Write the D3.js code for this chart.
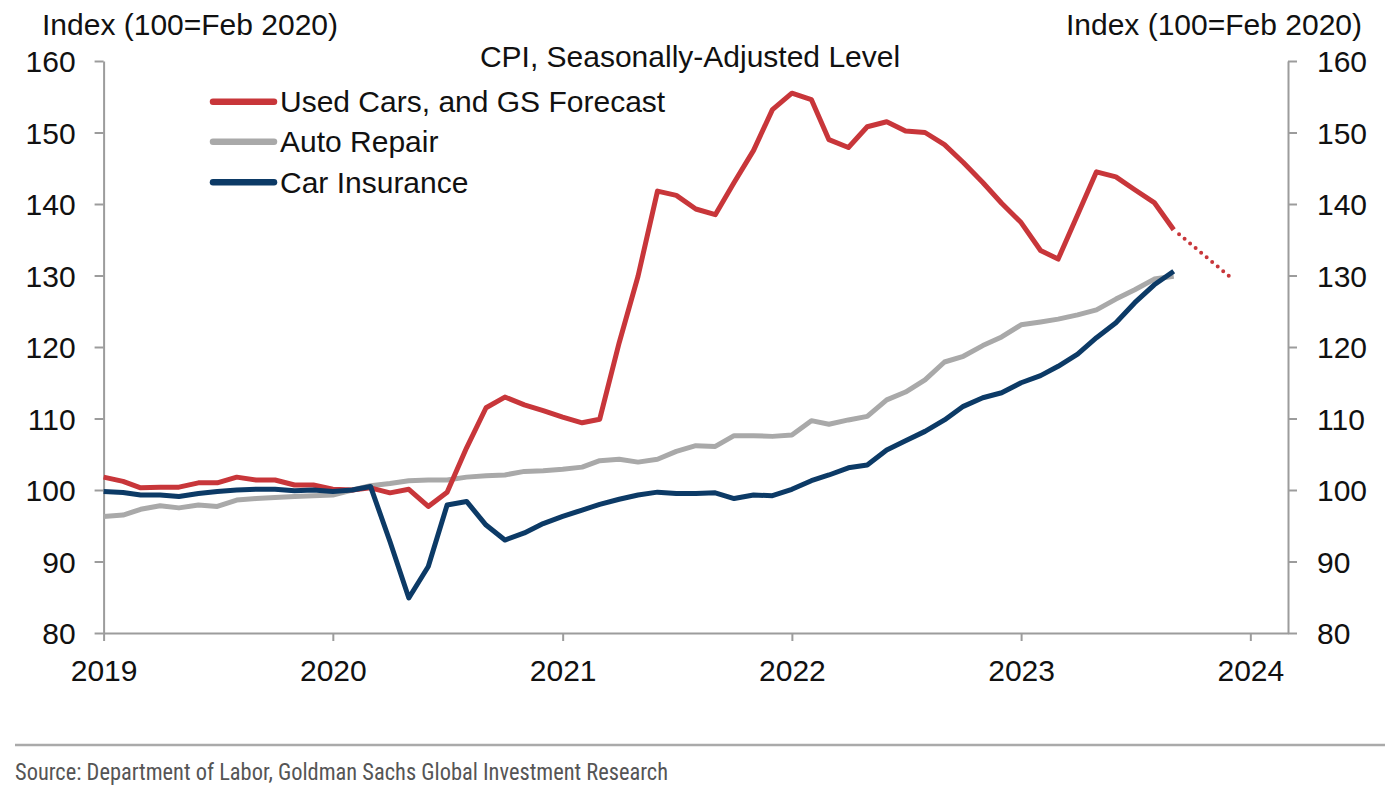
<!DOCTYPE html>
<html>
<head>
<meta charset="utf-8">
<script src="https://cdn.jsdelivr.net/npm/d3@7"></script>
<style>
  html, body { margin: 0; padding: 0; background: #fff; }
  svg { display: block; font-family: "Liberation Sans", Arial, sans-serif; }
</style>
</head>
<body>
<svg id="chart" width="1400" height="796"></svg>
<script>
// ---- Data (monthly, Jan 2019 – Sep 2023) ----
const startMonth = "2019-01";
const usedCars = [101.8,101.2,100.3,100.4,100.4,101.0,101.0,101.8,101.4,101.4,100.7,100.7,
  100.1,100.0,100.3,99.6,100.1,97.7,99.7,105.9,111.5,113.0,111.9,111.1,
  110.2,109.4,109.9,120.6,129.9,141.8,141.2,139.3,138.5,143.0,147.5,153.2,
  155.5,154.6,149.0,147.9,150.8,151.5,150.2,150.0,148.3,145.8,143.0,140.1,
  137.4,133.5,132.3,138.5,144.5,143.8,142.0,140.2,136.4];
const usedCarsForecastMonths = ["2023-09","2023-12"];
const usedCarsForecast = [136.4,129.7];
const autoRepair = [96.3,96.5,97.3,97.8,97.5,97.9,97.7,98.6,98.8,98.95,99.1,99.2,
  99.3,100.0,100.6,100.9,101.3,101.4,101.4,101.8,102.0,102.1,102.6,102.7,
  102.9,103.2,104.1,104.3,103.9,104.3,105.4,106.2,106.1,107.6,107.6,107.5,
  107.7,109.7,109.2,109.8,110.3,112.6,113.7,115.4,117.9,118.7,120.2,121.4,
  123.1,123.5,123.9,124.5,125.2,126.7,128.0,129.5,129.9];
const carInsurance = [99.8,99.65,99.3,99.3,99.1,99.5,99.8,100.0,100.1,100.1,99.9,100.0,
  99.8,100.0,100.5,92.8,84.9,89.3,97.9,98.4,95.1,93.0,94.0,95.3,
  96.3,97.2,98.0,98.7,99.3,99.7,99.5,99.5,99.6,98.8,99.3,99.2,
  100.1,101.3,102.1,103.1,103.5,105.6,106.9,108.2,109.8,111.7,112.9,113.6,
  115.0,116.0,117.3,119.0,121.3,123.4,126.2,128.7,130.6];
const seriesNames = ["Used Cars, and GS Forecast","Auto Repair","Car Insurance"];
const seriesColors = ["#c8363a","#a9a9a9","#0c3a66"];
const yTicks = [80,90,100,110,120,130,140,150,160];
const xTickYears = [2019,2020,2021,2022,2023,2024];
const axisTitle = "Index (100=Feb 2020)";
const chartTitle = "CPI, Seasonally-Adjusted Level";
const sourceText = "Source: Department of Labor, Goldman Sachs Global Investment Research";

// ---- Helpers ----
const parseMonth = d3.timeParse("%Y-%m");
const start = parseMonth(startMonth);
const monthDates = usedCars.map((_, i) => d3.timeMonth.offset(start, i));

// ---- Layout ----
const svg = d3.select("#chart");
const plotL = 103.6, plotR = 1288, plotT = 61, plotB = 633;
const fs = 30;

const x = d3.scaleTime()
  .domain([new Date(2019,0,1), new Date(2024,2,1)])
  .range([plotL, plotR]);
const y = d3.scaleLinear().domain([80,160]).range([plotB, plotT]);

const axisColor = "#9c9c9c";

function styleAxis(g) {
  g.selectAll("path.domain").attr("stroke", axisColor).attr("stroke-width", 2);
  g.selectAll(".tick line").attr("stroke", axisColor).attr("stroke-width", 2);
  g.selectAll(".tick text").attr("fill", "#111").style("font-size", fs + "px")
    .style("font-family", "'Liberation Sans', Arial, sans-serif");
}

// Left axis
const gL = svg.append("g").attr("transform", `translate(${plotL},0)`)
  .call(d3.axisLeft(y).tickValues(yTicks).tickSize(9).tickSizeOuter(0).tickPadding(19));
styleAxis(gL);
gL.selectAll(".tick text").attr("dy", "0.35em");

// Right axis
const gR = svg.append("g").attr("transform", `translate(${plotR},0)`)
  .call(d3.axisRight(y).tickValues(yTicks).tickSize(9).tickSizeOuter(0).tickPadding(20));
styleAxis(gR);
gR.selectAll(".tick text").attr("dy", "0.35em");

// Bottom axis
const gB = svg.append("g").attr("transform", `translate(0,${plotB})`)
  .call(d3.axisBottom(x).tickValues(xTickYears.map(yr => new Date(yr,0,1)))
    .tickFormat(d3.timeFormat("%Y")).tickSize(8).tickSizeOuter(0));
styleAxis(gB);
gB.selectAll(".tick text").attr("y", 48).attr("dy", 0);

// ---- Lines ----
const line = d3.line().x(d => x(d[0])).y(d => y(d[1])).curve(d3.curveLinear);

function drawSeries(vals, color) {
  svg.append("path")
    .datum(vals.map((v, i) => [monthDates[i], v]))
    .attr("fill", "none").attr("stroke", color).attr("stroke-width", 5)
    .attr("stroke-linejoin", "round").attr("d", line);
}
drawSeries(autoRepair, seriesColors[1]);
drawSeries(usedCars, seriesColors[0]);
// forecast dotted
svg.append("path")
  .datum(usedCarsForecastMonths.map((m, i) => [parseMonth(m), usedCarsForecast[i]]))
  .attr("fill", "none").attr("stroke", seriesColors[0]).attr("stroke-width", 4)
  .attr("stroke-linecap", "round").attr("stroke-dasharray", "0 7.2")
  .attr("stroke-dashoffset", -7).attr("d", line);
drawSeries(carInsurance, seriesColors[2]);

// ---- Titles ----
svg.append("text").attr("x", 42).attr("y", 35).attr("font-size", fs).attr("fill", "#111")
  .text(axisTitle);
svg.append("text").attr("x", 1362).attr("y", 35).attr("font-size", fs).attr("fill", "#111")
  .attr("text-anchor", "end").text(axisTitle);
svg.append("text").attr("x", 690).attr("y", 67).attr("font-size", fs).attr("fill", "#111")
  .attr("text-anchor", "middle").text(chartTitle);

// ---- Legend ----
const legY = [101.7, 141.7, 182.2];
seriesNames.forEach((name, i) => {
  svg.append("line").attr("x1", 213).attr("x2", 274).attr("y1", legY[i]).attr("y2", legY[i])
    .attr("stroke", seriesColors[i]).attr("stroke-width", 6.5).attr("stroke-linecap", "round");
  svg.append("text").attr("x", 280).attr("y", legY[i] + 10.5).attr("font-size", fs)
    .attr("fill", "#111").text(name);
});

// ---- Footer ----
svg.append("line").attr("x1", 15).attr("x2", 1385).attr("y1", 745).attr("y2", 745)
  .attr("stroke", "#aaaaaa").attr("stroke-width", 2.5);
svg.append("text").attr("x", 15).attr("y", 780)
  .style("font-family", "'Liberation Sans Narrow', 'Roboto Condensed', 'Liberation Sans', Arial, sans-serif")
  .attr("font-size", 23).attr("fill", "#555")
  .attr("textLength", 653).attr("lengthAdjust", "spacingAndGlyphs")
  .text(sourceText);
</script>
</body>
</html>
